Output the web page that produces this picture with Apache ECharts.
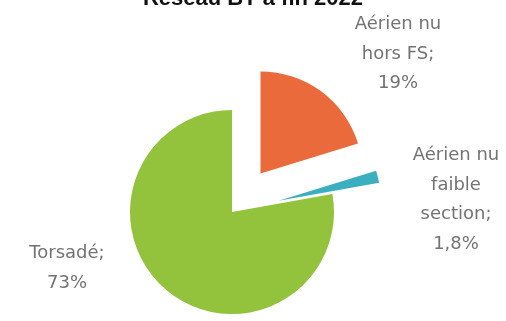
<!DOCTYPE html>
<html>
<head>
<meta charset="utf-8">
<script src="https://cdn.jsdelivr.net/npm/echarts@6/dist/echarts.min.js"></script>
<style>
  html, body { margin: 0; padding: 0; background: #fff; }
  #pie { width: 506px; height: 321px; }
</style>
</head>
<body>
<div id="pie"></div>
<script>
var categories = ["Aérien nu hors FS", "Aérien nu faible section", "Torsadé"];
var shares = [19, 1.8, 73];
var shareLabels = ["Aérien nu\nhors FS;\n19%", "Aérien nu\nfaible\nsection;\n1,8%", "Torsadé;\n73%"];
var sliceColors = ["#EB6A3C", "#3AAFC0", "#93C23C"];

// top-centre of each label block
var labelSpots = [[398, 10], [456, 141], [67, 239]];

var myChart = echarts.init(document.getElementById("pie"));

var option = {
  animation: false,
  title: {
    text: "Réseau BT à fin 2022",
    left: "center",
    top: -17,
    textStyle: { fontFamily: "Liberation Sans", fontSize: 22, fontWeight: "bold", color: "#111" }
  },
  graphic: shareLabels.map(function (t, i) {
    return {
      type: "text",
      x: labelSpots[i][0],
      y: labelSpots[i][1],
      style: {
        text: t,
        align: "center",
        verticalAlign: "top",
        fontFamily: "DejaVu Sans",
        fontSize: 18,
        lineHeight: 29.5,
        fill: "#737373"
      }
    };
  }),
  series: [
    {
      type: "pie",
      center: [232, 212],
      radius: 102,
      startAngle: 90,
      clockwise: true,
      selectedMode: "multiple",
      selectedOffset: 48,
      label: { show: false },
      labelLine: { show: false },
      data: categories.map(function (c, i) {
        return {
          name: c,
          value: shares[i],
          selected: i < 2,
          itemStyle: { color: sliceColors[i] }
        };
      })
    }
  ]
};

option && myChart.setOption(option);
</script>
</body>
</html>
